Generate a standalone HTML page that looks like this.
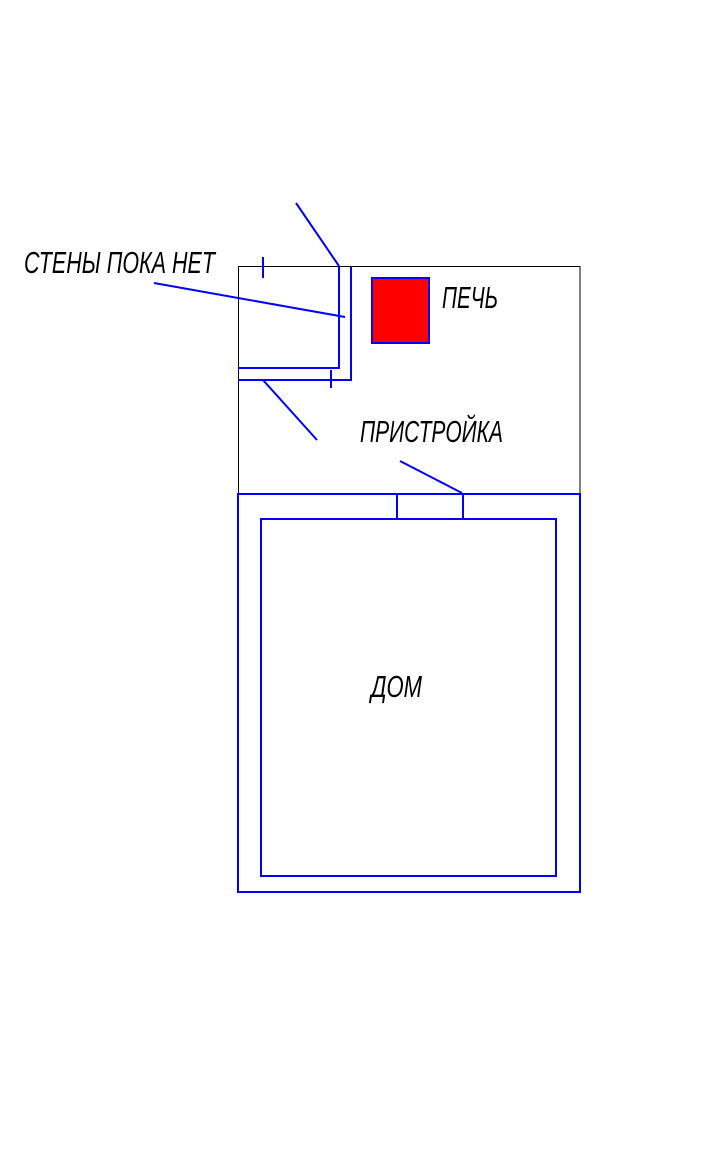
<!DOCTYPE html>
<html><head><meta charset="utf-8"><style>html,body{margin:0;padding:0;background:#fff;}svg{display:block}</style></head>
<body>
<svg width="724" height="1152" viewBox="0 0 724 1152" xmlns="http://www.w3.org/2000/svg">
<g font-family="Liberation Sans, sans-serif" font-style="italic" font-size="31" fill="#000" lengthAdjust="spacingAndGlyphs">
<text x="24" y="273" textLength="191" lengthAdjust="spacingAndGlyphs">СТЕНЫ ПОКА НЕТ</text>
<text x="442" y="308" textLength="56" lengthAdjust="spacingAndGlyphs">ПЕЧЬ</text>
<text x="360" y="442" textLength="143" lengthAdjust="spacingAndGlyphs">ПРИСТРОЙКА</text>
<text x="371" y="697" textLength="51" lengthAdjust="spacingAndGlyphs">ДОМ</text>
</g>
<rect x="238.5" y="266.5" width="341.5" height="227" fill="none" stroke="#000" stroke-width="1"/>
<g stroke="#0000ff" fill="none" stroke-width="2">
<rect x="238" y="494" width="342" height="398"/>
<rect x="261" y="519" width="295" height="357"/>
<line x1="397" y1="494" x2="397" y2="519"/>
<line x1="463" y1="494" x2="463" y2="519"/>
<polyline points="238,368 339,368 339,266"/>
<polyline points="238,380 351,380 351,266"/>
<line x1="263" y1="257" x2="263" y2="278"/>
<line x1="331" y1="370" x2="331" y2="388"/>
<line x1="296" y1="203" x2="339" y2="266"/>
<line x1="154" y1="283" x2="345" y2="317"/>
<line x1="263" y1="380" x2="317" y2="440"/>
<line x1="400" y1="461" x2="462" y2="493"/>
<rect x="372" y="278" width="57" height="65" fill="#ff0000"/>
</g>
</svg>
</body></html>
